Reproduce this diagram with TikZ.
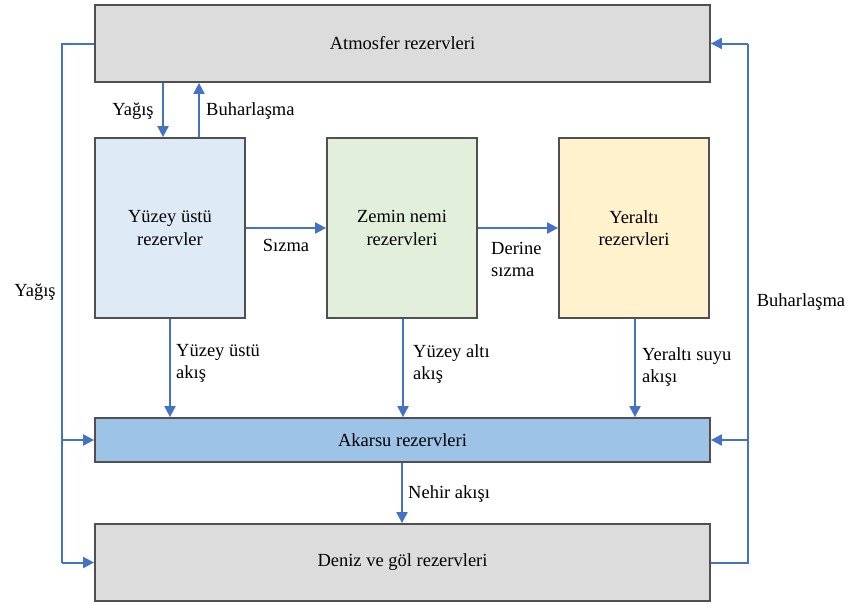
\documentclass[tikz,border=0pt]{standalone}
\usepackage{fontspec}
\setmainfont{Liberation Serif}
\usetikzlibrary{arrows.meta}
\definecolor{flow}{HTML}{4472C4}
\definecolor{graybox}{HTML}{DCDCDC}
\definecolor{bluebox}{HTML}{DEEAF6}
\definecolor{greenbox}{HTML}{E2EFDA}
\definecolor{yellowbox}{HTML}{FFF2CC}
\definecolor{riverbox}{HTML}{9DC3E6}
\definecolor{edge}{HTML}{505050}
\begin{document}
\begin{tikzpicture}[x=1pt,y=-1pt,
  box/.style={draw=edge,line width=1.8pt,minimum width=#1,inner sep=0pt,align=center,font=\fontsize{18.5}{22.5}\selectfont},
  flowline/.style={draw=flow,line width=2pt},
  arr/.style={flowline,-{Triangle[length=11pt,width=11pt]}},
  lbl/.style={font=\fontsize{18.5}{22.5}\selectfont,inner sep=1pt}]
\useasboundingbox (0,0) rectangle (849,603);
\node[box=615pt,minimum height=77pt,fill=graybox] (atm) at (402.5,43.5) {Atmosfer rezervleri};
\node[box=150pt,minimum height=180pt,fill=bluebox] (yuz) at (170,228) {Yüzey üstü\\rezervler};
\node[box=150pt,minimum height=180pt,fill=greenbox] (zem) at (402,228) {Zemin nemi\\rezervleri};
\node[box=150pt,minimum height=180pt,fill=yellowbox] (yer) at (634,228) {Yeraltı\\rezervleri};
\node[box=615pt,minimum height=44pt,fill=riverbox] (aka) at (402.5,440) {Akarsu rezervleri};
\node[box=615pt,minimum height=77pt,fill=graybox] (den) at (402.5,562.5) {Deniz ve göl rezervleri};
\coordinate (lt) at (62,43.5);
\coordinate (lb) at (62,562.5);
\coordinate (rt) at (748,43.5);
\coordinate (rb) at (748,562.5);
% left loop
\draw[flowline] (atm.west) -- (lt) -- (lb);
\draw[arr] (62,440) -- (aka.west);
\draw[arr] (lb) -- (den.west);
% right loop
\draw[flowline] (den.east) -- (rb) -- (rt);
\draw[arr] (rt) -- (atm.east);
\draw[arr] (748,440) -- (aka.east);
% top arrows
\draw[arr] (atm.south -| 163,0) -- (yuz.north -| 163,0);
\draw[arr] (yuz.north -| 199,0) -- (atm.south -| 199,0);
% horizontal
\draw[arr] (yuz.east) -- (zem.west);
\draw[arr] (zem.east) -- (yer.west);
% down arrows
\draw[arr] (yuz.south -| 170,0) -- (aka.north -| 170,0);
\draw[arr] (zem.south -| 403,0) -- (aka.north -| 403,0);
\draw[arr] (yer.south -| 635,0) -- (aka.north -| 635,0);
\draw[arr] (aka.south -| 402,0) -- (den.north -| 402,0);
% labels
\node[lbl] (l1) at (133,111) {Yağış};
\node[lbl,anchor=west] (l2) at (205,111) {Buharlaşma};
\node[lbl] (l3) at (35,292) {Yağış};
\node[lbl] (l4) at (801,302) {Buharlaşma};
\node[lbl] (l5) at (286,245) {Sızma};
\node[lbl,align=left,anchor=north west] (l6) at (490,241) {Derine\\sızma};
\node[lbl,align=left,anchor=north west] (l7) at (175,343) {Yüzey üstü\\akış};
\node[lbl,align=left,anchor=north west] (l8) at (412,343) {Yüzey altı\\akış};
\node[lbl,align=left,anchor=north west] (l9) at (641,346) {Yeraltı suyu\\akışı};
\node[lbl,anchor=west] (l10) at (407,494) {Nehir akışı};
\end{tikzpicture}
\end{document}
